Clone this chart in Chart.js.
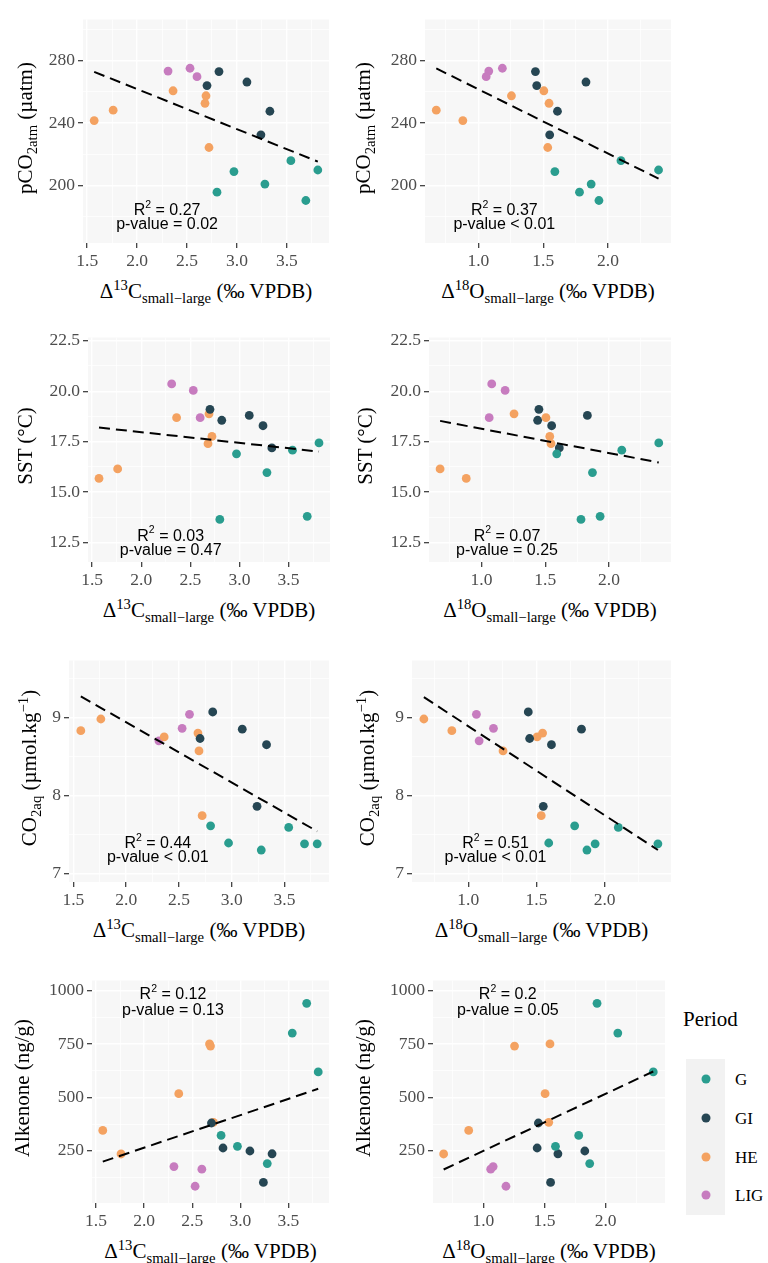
<!DOCTYPE html>
<html>
<head>
<meta charset="utf-8">
<script src="https://cdn.jsdelivr.net/npm/chart.js@4.4.1/dist/chart.umd.min.js"></script>
<style>
  body { margin: 0; background: #fff; width: 768px; height: 1263px; position: relative; overflow: hidden; font-family: "Liberation Serif", serif; }
  canvas { position: absolute; }
  .ttl { position: absolute; font-size: 21px; color: #000; white-space: nowrap; line-height: 1; }
  .yt { transform: translate(-50%, -50%) rotate(-90deg); }
  .xt { transform: translate(-50%, -50%); }
  sub, sup { font-size: 70%; line-height: 0; }
  .key { position: absolute; background: #f2f2f2; }
  .dot { position: absolute; width: 9px; height: 9px; border-radius: 50%; transform: translate(-50%, -50%); }
  .klab { position: absolute; font-size: 17px; transform: translateY(-50%); line-height: 1; }
</style>
</head>
<body>
<script>
// periods and colours
const periods = ['G', 'GI', 'HE', 'LIG'];
const periodColors = ['#2A9D8F', '#264653', '#F4A261', '#C77CBF'];

// one entry per sample
const samplePeriod = ['G','G','G','G','G','G', 'GI','GI','GI','GI','GI', 'HE','HE','HE','HE','HE','HE', 'LIG','LIG','LIG'];
const d13C     = [2.80, 2.97, 3.28, 3.54, 3.69, 3.81,  2.70, 2.82, 3.10, 3.24, 3.33,  1.57, 1.76, 2.36, 2.69, 2.68, 2.72,  2.31, 2.53, 2.60];
const d18O     = [1.78, 1.59, 1.87, 2.10, 1.93, 2.39,  1.45, 1.44, 1.83, 1.55, 1.61,  0.88, 0.675, 1.505, 1.255, 1.545, 1.535,  1.08, 1.185, 1.06];
const pCO2     = [195.8, 209, 201, 216, 190.5, 210,  264, 273, 266.3, 232.5, 247.6,  241.6, 248.3, 260.7, 257.5, 252.7, 224.4,  273.3, 275.1, 269.7];
const sst      = [13.65, 16.9, 15.97, 17.08, 13.8, 17.44,  19.1, 18.56, 18.8, 18.29, 17.19,  15.68, 16.15, 18.69, 18.88, 17.40, 17.76,  20.36, 20.04, 18.69];
const co2aq    = [7.61, 7.39, 7.30, 7.59, 7.38, 7.38,  8.73, 9.07, 8.85, 7.86, 8.65,  8.83, 8.98, 8.75, 8.57, 8.80, 7.74,  8.70, 8.86, 9.04];
const alkenone = [322, 271, 190, 801, 940, 619,  380, 263, 249, 102, 236,  345, 235, 517, 740, 750, 383,  176, 84, 164];

// dashed fit lines, end points
const fitX13 = [1.57, 3.81];
const fitX18 = [0.675, 2.39];
const fitPCO2_13 = [272.8, 215.4], fitPCO2_18 = [275.0, 204.5];
const fitSST_13 = [18.2, 17.01],   fitSST_18 = [18.53, 16.47];
const fitCO2_13 = [9.27, 7.54],    fitCO2_18 = [9.26, 7.30];
const fitAlk_13 = [199, 540],      fitAlk_18 = [162.5, 621];

// stats text
const r2_13 = ['0.27', '0.03', '0.44', '0.12'];
const p_13  = ['= 0.02', '= 0.47', '< 0.01', '= 0.13'];
const r2_18 = ['0.37', '0.07', '0.51', '0.2'];
const p_18  = ['< 0.01', '= 0.25', '< 0.01', '= 0.05'];

// tick labels
const ticks13 = [1.5, 2.0, 2.5, 3.0, 3.5];
const ticks18 = [1.0, 1.5, 2.0];
const ticksPCO2 = [200, 240, 280];
const ticksSST = [12.5, 15.0, 17.5, 20.0, 22.5];
const ticksCO2 = [7, 8, 9];
const ticksAlk = [250, 500, 750, 1000];

const xCols = [
  { xs: d13C, range: [1.458, 3.922], major: ticks13, fitX: fitX13, statX: 2.3, r2: r2_13, p: p_13,
    title: 'Δ<sup>13</sup>C<sub>small−large</sub> (‰ VPDB)' },
  { xs: d18O, range: [0.588, 2.486], major: ticks18, fitX: fitX18, statX: 1.2, r2: r2_18, p: p_18,
    title: 'Δ<sup>18</sup>O<sub>small−large</sub> (‰ VPDB)' }
];
const yRows = [
  { ys: pCO2, range: [163.3, 306.3], major: ticksPCO2, dec: 0, fits: [fitPCO2_13, fitPCO2_18], statY: [183.9, 175.3],
    title: 'pCO<sub>2atm</sub> (µatm)' },
  { ys: sst, range: [11.54, 22.66], major: ticksSST, dec: 1, fits: [fitSST_13, fitSST_18], statY: [12.82, 12.1],
    title: 'SST (°C)' },
  { ys: co2aq, range: [6.89, 9.73], major: ticksCO2, dec: 0, fits: [fitCO2_13, fitCO2_18], statY: [7.378, 7.2],
    title: 'CO<sub>2aq</sub> (µmol.kg<sup>−1</sup>)' },
  { ys: alkenone, range: [5.6, 1046.8], major: ticksAlk, dec: 0, fits: [fitAlk_13, fitAlk_18], statY: [979, 906],
    title: 'Alkenone (ng/g)' }
];

// plot areas on the page: [left, top, right, bottom]
const plotRects = [
  [83, 12, 329, 243], [425, 12, 671, 243],
  [88, 330, 330, 562], [429, 330, 671, 562],
  [69, 653, 329, 882], [412, 653, 671, 882],
  [92, 973, 329, 1203], [433, 973, 665, 1203]
];
const yTitleX = [25, 363, 25, 365, 29, 367, 22, 363];

const AXW = 50, AXH = 32, PAD = 6;
const SERIF = '"Liberation Serif", "Times New Roman", serif';

function withMinor(major, min, max) {
  const step = major[1] - major[0];
  const out = [];
  for (let v = major[0] - step; v <= major[major.length - 1] + step + 1e-9; v += step / 2) {
    const r = Math.round(v * 10000) / 10000;
    if (r >= min && r <= max) out.push(r);
  }
  return out;
}

function axis(pos, range, major, dec) {
  const isMajor = v => major.some(m => Math.abs(m - v) < 1e-6);
  const all = withMinor(major, range[0], range[1]);
  return {
    type: 'linear', position: pos, min: range[0], max: range[1],
    afterBuildTicks: s => { s.ticks = all.map(v => ({ value: v })); },
    afterFit: s => { if (pos === 'left') s.width = AXW; else s.height = AXH; },
    border: { display: false },
    grid: {
      color: '#ffffff',
      lineWidth: c => (c.tick && isMajor(c.tick.value)) ? 1.4 : 0.7,
      tickColor: c => (c.tick && isMajor(c.tick.value)) ? '#333333' : 'rgba(0,0,0,0)',
      tickLength: 5, tickWidth: 1.2
    },
    ticks: {
      autoSkip: false, maxRotation: 0, padding: 3, color: '#4d4d4d',
      font: { family: SERIF, size: 17.5 },
      callback: v => isMajor(v) ? v.toFixed(dec) : ''
    }
  };
}

const bgPlugin = {
  id: 'bg',
  beforeDraw(chart) {
    const a = chart.chartArea, ctx = chart.ctx;
    ctx.save();
    ctx.fillStyle = '#f7f7f7';
    ctx.fillRect(a.left, a.top, a.right - a.left, a.bottom - a.top);
    ctx.restore();
  }
};

const statsPlugin = {
  id: 'stats',
  afterDatasetsDraw(chart, args, o) {
    const ctx = chart.ctx, x = chart.scales.x, y = chart.scales.y;
    const cx = x.getPixelForValue(o.x);
    const f = '16px "Liberation Sans", Arial, sans-serif', fs = '10.5px "Liberation Sans", Arial, sans-serif';
    ctx.save();
    ctx.fillStyle = '#000';
    ctx.textBaseline = 'middle';
    ctx.font = f;
    const wR = ctx.measureText('R').width;
    const rest = ' = ' + o.r2;
    const wRest = ctx.measureText(rest).width;
    ctx.font = fs;
    const w2 = ctx.measureText('2').width;
    const y1 = y.getPixelForValue(o.y1);
    let sx = cx - (wR + w2 + wRest) / 2;
    ctx.textAlign = 'left';
    ctx.font = f; ctx.fillText('R', sx, y1);
    ctx.font = fs; ctx.fillText('2', sx + wR, y1 - 6);
    ctx.font = f; ctx.fillText(rest, sx + wR + w2, y1);
    ctx.textAlign = 'center';
    ctx.fillText('p-value ' + o.p, cx, y.getPixelForValue(o.y2));
    ctx.restore();
  }
};

function addTitle(html, cls, left, top) {
  const d = document.createElement('div');
  d.className = 'ttl ' + cls;
  d.innerHTML = html;
  d.style.left = left + 'px';
  d.style.top = top + 'px';
  document.body.appendChild(d);
}

function drawPanels() {
  yRows.forEach((row, ri) => {
    xCols.forEach((col, ci) => {
      const k = ri * 2 + ci;
      const [L, T, R, B] = plotRects[k];
      const cv = document.createElement('canvas');
      const cl = L - AXW, ct = T - PAD;
      cv.width = R + PAD - cl;
      cv.height = B + AXH - ct;
      cv.style.left = cl + 'px';
      cv.style.top = ct + 'px';
      document.body.appendChild(cv);

      const datasets = [{
        type: 'line',
        data: col.fitX.map((xv, i) => ({ x: xv, y: row.fits[ci][i] })),
        borderColor: '#000', borderWidth: 2, borderDash: [11, 6],
        pointRadius: 0, fill: false
      }];
      periods.forEach((p, pi) => {
        const pts = [];
        samplePeriod.forEach((sp, i) => { if (sp === p) pts.push({ x: col.xs[i], y: row.ys[i] }); });
        datasets.push({
          type: 'scatter', label: p, data: pts,
          backgroundColor: periodColors[pi], borderWidth: 0, pointRadius: 4.4
        });
      });

      new Chart(cv, {
        type: 'scatter',
        data: { datasets },
        options: {
          responsive: false, animation: false,
          layout: { padding: { top: PAD, right: PAD, left: 0, bottom: 0 } },
          plugins: {
            legend: { display: false }, tooltip: { enabled: false },
            stats: { x: col.statX, y1: row.statY[0], y2: row.statY[1], r2: col.r2[ri], p: col.p[ri] }
          },
          scales: {
            x: axis('bottom', col.range, col.major, 1),
            y: axis('left', row.range, row.major, row.dec)
          }
        },
        plugins: [bgPlugin, statsPlugin]
      });

      addTitle(row.title, 'yt', yTitleX[k], (T + B) / 2);
      addTitle(col.title, 'xt', (L + R) / 2, B + 48);
    });
  });

  // legend
  addTitle('Period', '', 683, 1009);
  const key = document.createElement('div');
  key.className = 'key';
  key.style.cssText = 'left:686px;top:1059px;width:39px;height:156px;';
  document.body.appendChild(key);
  periods.forEach((p, i) => {
    const cy = 1079 + i * 38.8;
    const d = document.createElement('div');
    d.className = 'dot';
    d.style.left = '705.5px';
    d.style.top = cy + 'px';
    d.style.background = periodColors[i];
    document.body.appendChild(d);
    const t = document.createElement('div');
    t.className = 'klab';
    t.textContent = p;
    t.style.left = '735px';
    t.style.top = cy + 'px';
    document.body.appendChild(t);
  });
}

Promise.all([
  document.fonts.load('17px "Liberation Serif"'),
  document.fonts.load('16px "Liberation Sans"')
]).catch(() => {}).then(drawPanels);
</script>
</body>
</html>
